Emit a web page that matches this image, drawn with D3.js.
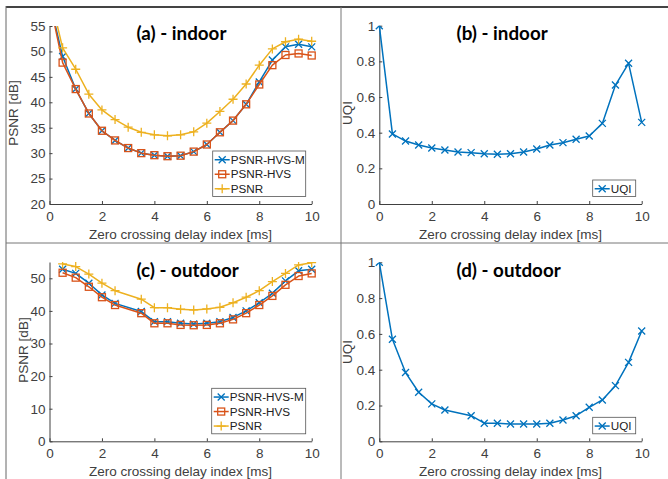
<!DOCTYPE html>
<html>
<head>
<meta charset="utf-8">
<script src="https://cdn.jsdelivr.net/npm/d3@7"></script>
<style>
body { margin: 0; background: #fff; }
svg { display: block; }
text { font-family: "Liberation Sans", Arial, sans-serif; }
</style>
</head>
<body>
<svg width="668" height="479"></svg>
<script>
// x values (zero crossing delay index, ms)
var delayIndoor = [0, 0.5, 1, 1.5, 2, 2.5, 3, 3.5, 4, 4.5, 5, 5.5, 6, 6.5, 7, 7.5, 8, 8.5, 9, 9.5, 10];
var delayOutdoorPsnr = [0.5, 1, 1.5, 2, 2.5, 3.5, 4, 4.5, 5, 5.5, 6, 6.5, 7, 7.5, 8, 8.5, 9, 9.5, 10];
var delayOutdoorUqi = [0, 0.5, 1, 1.5, 2, 2.5, 3.5, 4, 4.5, 5, 5.5, 6, 6.5, 7, 7.5, 8, 8.5, 9, 9.5, 10];

// (a) indoor PSNR values [dB]
var indoorHvsM = [60, 49.0, 42.6, 37.8, 34.4, 32.5, 31.0, 30.0, 29.6, 29.4, 29.5, 30.3, 31.7, 34.1, 36.4, 39.6, 44.0, 48.3, 50.9, 51.4, 50.9];
var indoorHvs = [60, 47.8, 42.6, 37.8, 34.4, 32.5, 31.0, 30.0, 29.6, 29.4, 29.5, 30.3, 31.7, 34.1, 36.4, 39.6, 43.5, 47.3, 49.3, 49.6, 49.2];
var indoorPsnr = [61.5, 50.7, 46.5, 41.6, 38.5, 36.6, 35.1, 34.1, 33.6, 33.4, 33.6, 34.2, 35.9, 38.2, 40.6, 43.6, 47.3, 50.5, 51.9, 52.4, 52.0];

// (b) indoor UQI
var indoorUqi = [1.0, 0.393, 0.353, 0.331, 0.314, 0.303, 0.292, 0.288, 0.282, 0.279, 0.282, 0.292, 0.308, 0.331, 0.344, 0.363, 0.381, 0.452, 0.667, 0.789, 0.458];

// (c) outdoor PSNR values [dB]
var outdoorHvsM = [52.8, 51.5, 48.5, 44.9, 42.3, 39.8, 36.7, 36.7, 36.2, 36.0, 36.2, 36.7, 38.0, 40.0, 42.5, 45.4, 49.2, 52.3, 52.8];
var outdoorHvs = [51.7, 50.2, 47.4, 44.2, 41.8, 39.3, 36.2, 36.2, 35.7, 35.6, 35.7, 36.2, 37.4, 39.3, 41.8, 44.6, 48.0, 50.7, 51.5];
var outdoorPsnr = [54.4, 53.6, 51.3, 48.5, 46.2, 43.6, 41.0, 41.0, 40.5, 40.3, 40.6, 41.1, 42.5, 44.2, 46.2, 49.0, 51.5, 54.1, 54.8];

// (d) outdoor UQI
var outdoorUqi = [1.0, 0.570, 0.384, 0.274, 0.209, 0.175, 0.143, 0.101, 0.101, 0.097, 0.097, 0.097, 0.101, 0.119, 0.143, 0.190, 0.231, 0.311, 0.441, 0.616];

var xTicks = [0, 2, 4, 6, 8, 10];
var psnrTicksIndoor = [20, 25, 30, 35, 40, 45, 50, 55];
var psnrTicksOutdoor = [0, 10, 20, 30, 40, 50];
var uqiTicks = [0, 0.2, 0.4, 0.6, 0.8, 1];

var blue = "#0072BD", orange = "#D95319", yellow = "#EDB120";
var axisColor = "#404040";

var svg = d3.select("svg");

// frame lines of the composite figure
svg.append("line").attr("x1", 6).attr("x2", 668).attr("y1", 7).attr("y2", 7).attr("stroke", "#444").attr("stroke-width", 2);
svg.append("line").attr("x1", 6).attr("x2", 6).attr("y1", 6).attr("y2", 479).attr("stroke", "#666").attr("stroke-width", 1);
svg.append("line").attr("x1", 341).attr("x2", 341).attr("y1", 7).attr("y2", 479).attr("stroke", "#777").attr("stroke-width", 1);
svg.append("line").attr("x1", 6).attr("x2", 668).attr("y1", 243).attr("y2", 243).attr("stroke", "#777").attr("stroke-width", 1);

function drawMarker(g, type, color) {
    if (type === "x") {
        g.append("path").attr("d", "M-3.5,-3.5L3.5,3.5M-3.5,3.5L3.5,-3.5").attr("stroke", color).attr("stroke-width", 1.3).attr("fill", "none");
    } else if (type === "square") {
        g.append("rect").attr("x", -3.5).attr("y", -3.5).attr("width", 7).attr("height", 7).attr("stroke", color).attr("stroke-width", 1.3).attr("fill", "none");
    } else {
        g.append("path").attr("d", "M-4.5,0L4.5,0M0,-4.5L0,4.5").attr("stroke", color).attr("stroke-width", 1.3).attr("fill", "none");
    }
}

function drawPanel(p) {
    var x = d3.scaleLinear().domain([0, 10]).range([p.left, p.right]);
    var y = d3.scaleLinear().domain(p.yDomain).range([p.bottom, p.top]);

    var clipId = "clip-" + p.id;
    svg.append("clipPath").attr("id", clipId).append("rect")
        .attr("x", p.left - 5).attr("y", p.top).attr("width", p.right - p.left + 10).attr("height", p.bottom - p.top + 5);

    var xAxis = svg.append("g").attr("transform", "translate(0," + p.bottom + ")")
        .call(d3.axisBottom(x).tickValues(xTicks).tickSizeInner(-3).tickSizeOuter(0).tickPadding(7));
    var yAxis = svg.append("g").attr("transform", "translate(" + p.left + ",0)")
        .call(d3.axisLeft(y).tickValues(p.yTicks).tickFormat(p.yFormat).tickSizeInner(-3).tickSizeOuter(0).tickPadding(4));
    [xAxis, yAxis].forEach(function (a) {
        a.select(".domain").attr("stroke", axisColor);
        a.selectAll(".tick line").attr("stroke", axisColor);
        a.selectAll(".tick text").attr("fill", axisColor).attr("font-size", 13.5)
            .style("font-family", "'Liberation Sans', Arial, sans-serif");
    });

    svg.append("text").attr("x", (p.left + p.right) / 2).attr("y", p.bottom + 35)
        .attr("text-anchor", "middle").attr("fill", axisColor).attr("font-size", 13.5)
        .text("Zero crossing delay index [ms]");
    svg.append("text").attr("transform", "translate(" + p.yLabelX + "," + p.yLabelY + ") rotate(-90)")
        .attr("text-anchor", "middle").attr("fill", axisColor).attr("font-size", 13.5)
        .text(p.yLabel);

    var line = d3.line().x(function (d) { return x(d[0]); }).y(function (d) { return y(d[1]); });
    var plot = svg.append("g").attr("clip-path", "url(#" + clipId + ")");

    p.series.forEach(function (s) {
        var pts = d3.zip(s.xs, s.values);
        plot.append("path").datum(pts).attr("d", line).attr("fill", "none")
            .attr("stroke", s.color).attr("stroke-width", 1.5).attr("stroke-linejoin", "round");
        pts.forEach(function (d) {
            drawMarker(plot.append("g").attr("transform", "translate(" + x(d[0]) + "," + y(d[1]) + ")"), s.marker, s.color);
        });
    });

    // legend box, anchored to the lower right of the axes
    var rowH = 14.5;
    var lh = p.series.length * rowH + 2;
    var lx = p.right - 6 - p.legendW, ly = p.bottom - 7.5 - lh;
    var lg = svg.append("g").attr("transform", "translate(" + lx + "," + ly + ")");
    lg.append("rect").attr("width", p.legendW).attr("height", lh).attr("fill", "#fff").attr("stroke", "#555").attr("stroke-width", 0.8);
    p.series.forEach(function (s, i) {
        var row = lg.append("g").attr("transform", "translate(0," + (rowH * i + rowH / 2 + 1.5) + ")");
        row.append("line").attr("x1", 2).attr("x2", 17).attr("stroke", s.color).attr("stroke-width", 1.5);
        drawMarker(row.append("g").attr("transform", "translate(9.5,0)"), s.marker, s.color);
        row.append("text").attr("x", 18).attr("dy", "0.36em").attr("font-size", 11.7).attr("fill", "#222").text(s.name);
    });

    svg.append("text").attr("x", p.titleX).attr("y", p.titleY)
        .style("font-family", "Lato, 'Open Sans', sans-serif").attr("font-weight", 700)
        .attr("font-size", 18.8).attr("fill", "#000").text(p.title);
}

var fmtInt = d3.format("d");
var fmtUqi = function (d) { return d === 0 || d === 1 ? String(d) : d.toFixed(1); };

drawPanel({
    id: "a", left: 49.5, right: 311.7, top: 26, bottom: 204,
    yDomain: [20, 55], yTicks: psnrTicksIndoor, yFormat: fmtInt,
    yLabel: "PSNR [dB]", yLabelX: 17.5, yLabelY: 113,
    title: "(a) - indoor", titleX: 136.5, titleY: 39.5, legendW: 93,
    series: [
        { name: "PSNR-HVS-M", xs: delayIndoor, values: indoorHvsM, color: blue, marker: "x" },
        { name: "PSNR-HVS", xs: delayIndoor, values: indoorHvs, color: orange, marker: "square" },
        { name: "PSNR", xs: delayIndoor, values: indoorPsnr, color: yellow, marker: "plus" }
    ]
});

drawPanel({
    id: "b", left: 379.3, right: 641.7, top: 25.7, bottom: 204,
    yDomain: [0, 1], yTicks: uqiTicks, yFormat: fmtUqi,
    yLabel: "UQI", yLabelX: 352, yLabelY: 113,
    title: "(b) - indoor", titleX: 456.5, titleY: 39.5, legendW: 43,
    series: [
        { name: "UQI", xs: delayIndoor, values: indoorUqi, color: blue, marker: "x" }
    ]
});

drawPanel({
    id: "c", left: 49.5, right: 311.7, top: 262, bottom: 441.3,
    yDomain: [0, 55], yTicks: psnrTicksOutdoor, yFormat: fmtInt,
    yLabel: "PSNR [dB]", yLabelX: 28, yLabelY: 350,
    title: "(c) - outdoor", titleX: 136.5, titleY: 276.5, legendW: 94,
    series: [
        { name: "PSNR-HVS-M", xs: delayOutdoorPsnr, values: outdoorHvsM, color: blue, marker: "x" },
        { name: "PSNR-HVS", xs: delayOutdoorPsnr, values: outdoorHvs, color: orange, marker: "square" },
        { name: "PSNR", xs: delayOutdoorPsnr, values: outdoorPsnr, color: yellow, marker: "plus" }
    ]
});

drawPanel({
    id: "d", left: 379.3, right: 641.7, top: 262.3, bottom: 441.3,
    yDomain: [0, 1], yTicks: uqiTicks, yFormat: fmtUqi,
    yLabel: "UQI", yLabelX: 352, yLabelY: 352,
    title: "(d) - outdoor", titleX: 456.5, titleY: 276.5, legendW: 43,
    series: [
        { name: "UQI", xs: delayOutdoorUqi, values: outdoorUqi, color: blue, marker: "x" }
    ]
});
</script>
</body>
</html>
